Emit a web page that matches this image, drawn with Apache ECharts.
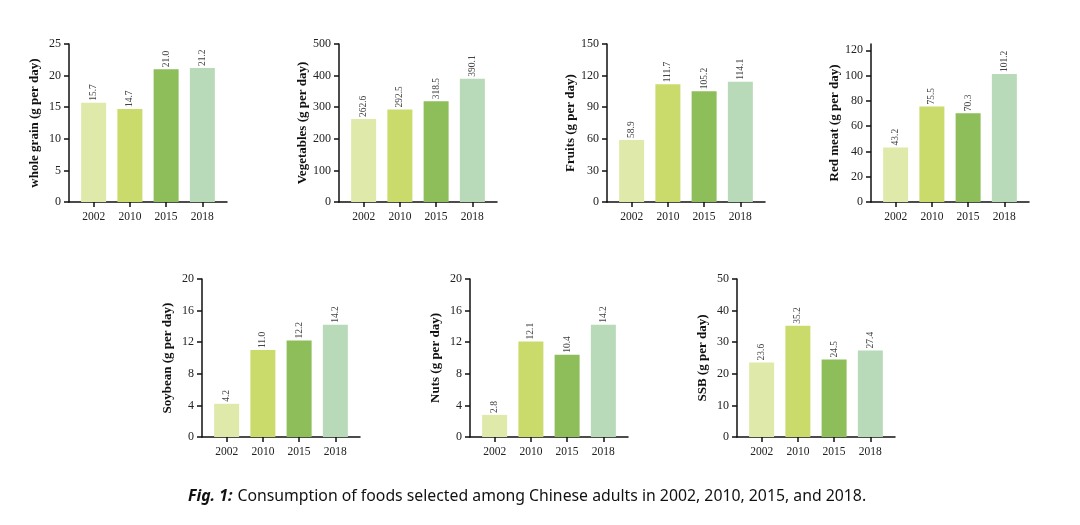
<!DOCTYPE html>
<html>
<head>
<meta charset="utf-8">
<script src="https://cdn.jsdelivr.net/npm/echarts@6/dist/echarts.min.js"></script>
<style>html,body{margin:0;padding:0;background:#fff}#c{width:1080px;height:525px}</style>
</head>
<body>
<div id="c"></div>
<script>
const years = ['2002', '2010', '2015', '2018'];
const wholeGrain = [15.7, 14.7, 21.0, 21.2];
const vegetables = [262.6, 292.5, 318.5, 390.1];
const fruits = [58.9, 111.7, 105.2, 114.1];
const redMeat = [43.2, 75.5, 70.3, 101.2];
const soybean = [4.2, 11.0, 12.2, 14.2];
const nuts = [2.8, 12.1, 10.4, 14.2];
const ssb = [23.6, 35.2, 24.5, 27.4];

const panelNames = ['whole grain (g per day)', 'Vegetables (g per day)', 'Fruits (g per day)', 'Red meat (g per day)',
  'Soybean (g per day)', 'Nuts (g per day)', 'SSB (g per day)'];
const panelValues = [wholeGrain, vegetables, fruits, redMeat, soybean, nuts, ssb];
const axisMax = [25, 500, 150, 125, 20, 20, 50];
const axisInterval = [5, 100, 30, 20, 4, 4, 10];
const axisTop = [25, 500, 150, 120, 20, 20, 50];
const caption = 'Consumption of foods selected among Chinese adults in 2002, 2010, 2015, and 2018.';

// layout / style
const barColors = ['#dfe9aa', '#cadb6c', '#8dbe59', '#b9dab9'];
const lefts = [69, 339, 607, 871, 202, 470, 737];
const tops = [44, 44, 44, 44, 279, 279, 279];
const W = 158, H = 158;
const serif = 'Liberation Serif';

const grid = [], xAxis = [], yAxis = [], series = [];
panelValues.forEach((vals, p) => {
  grid.push({left: lefts[p], top: tops[p], width: W, height: H, containLabel: false});
  const cats = years.map((_, i) => i);
  xAxis.push({
    type: 'value', gridIndex: p, min: -0.68, max: 3.68,
    axisLine: {show: true, onZero: false, lineStyle: {color: '#111', width: 1.5}},
    axisTick: {show: true, length: 5, customValues: cats, lineStyle: {color: '#111', width: 1.5}},
    axisLabel: {customValues: cats, formatter: v => years[Math.round(v)] || '', margin: 9,
      fontFamily: serif, fontSize: 11.5, color: '#222'},
    splitLine: {show: false}
  });
  const ticks = [];
  for (let v = 0; v <= axisTop[p] + 1e-9; v += axisInterval[p]) ticks.push(v);
  yAxis.push({
    type: 'value', gridIndex: p, min: 0, max: axisMax[p], interval: axisInterval[p],
    name: panelNames[p], nameLocation: 'middle', nameRotate: 90, nameGap: 28,
    nameTextStyle: {fontFamily: serif, fontWeight: 'bold', fontSize: 13, color: '#111'},
    axisLine: {show: true, onZero: false, lineStyle: {color: '#111', width: 1.5}},
    axisTick: {show: true, length: 5, customValues: ticks, lineStyle: {color: '#111', width: 1.5}},
    axisLabel: {customValues: ticks, margin: 8, fontFamily: serif, fontSize: 12, color: '#222'},
    splitLine: {show: false}
  });
  series.push({
    type: 'bar', xAxisIndex: p, yAxisIndex: p, barWidth: 25,
    data: vals.map((v, i) => ({value: [i, v], itemStyle: {color: barColors[i]}})),
    label: {show: true, position: 'top', rotate: 90, align: 'left', verticalAlign: 'middle', distance: 2,
      fontFamily: serif, fontSize: 9.5, color: '#444',
      formatter: pr => pr.value[1].toFixed(1)},
    emphasis: {disabled: true}
  });
});

const chart = echarts.init(document.getElementById('c'), null, {renderer: 'canvas'});
chart.setOption({
  animation: false,
  backgroundColor: '#fff',
  title: {
    text: '{b|Fig. 1:} {n|' + caption + '}',
    left: 183, top: 482,
    textStyle: {fontWeight: 'normal', rich: {
      b: {fontFamily: 'Noto Sans', fontSize: 15.8, fontWeight: 'bold', fontStyle: 'italic', color: '#111'},
      n: {fontFamily: 'Noto Sans', fontSize: 15.8, fontWeight: 'normal', color: '#111'}
    }}
  },
  grid, xAxis, yAxis, series
});
</script>
</body>
</html>
